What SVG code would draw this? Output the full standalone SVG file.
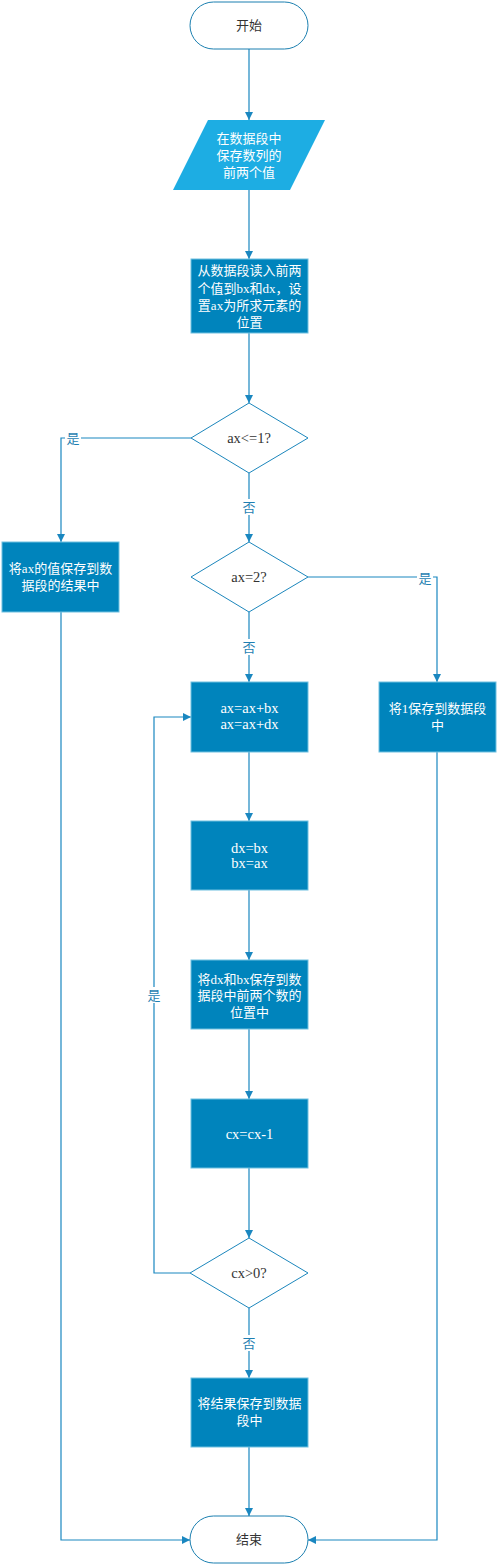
<svg xmlns="http://www.w3.org/2000/svg" width="498" height="1565" viewBox="0 0 498 1565">
<style>
.term{fill:#fff;stroke:#1B7FB0;stroke-width:1}
.para{fill:#1DADE3;stroke:none}
.proc{fill:#0084BC;stroke:#6FC0E0;stroke-width:1}
.dec{fill:#fff;stroke:#1B86BC;stroke-width:1}
.t{font-family:"Liberation Serif","Noto Sans CJK SC",serif;font-size:13px;text-anchor:middle;dominant-baseline:central}
.lat{font-size:14.5px}
.w{fill:#fff}
.d{fill:#333}
.lbl{font-family:"Liberation Serif","Noto Sans CJK SC",serif;font-size:13px;text-anchor:middle;dominant-baseline:central;fill:#1F7FB2}
.c{fill:none;stroke:#1A87C0;stroke-width:1.2}
.lb{fill:#fff}
</style>
<defs>
<marker id="arr" viewBox="0 0 10 10" refX="10" refY="5" markerWidth="8" markerHeight="8" markerUnits="userSpaceOnUse" orient="auto">
<path d="M0,0 L10,5 L0,10 z" fill="#1A87C0"/>
</marker>
</defs>
<rect width="498" height="1565" fill="#fff"/>
<g id="connectors">
<path class="c" d="M249,49 V120" marker-end="url(#arr)"/>
<path class="c" d="M249,190 V259" marker-end="url(#arr)"/>
<path class="c" d="M249,333 V403" marker-end="url(#arr)"/>
<path class="c" d="M191,438 H61 V542" marker-end="url(#arr)"/>
<path class="c" d="M249,473 V542" marker-end="url(#arr)"/>
<path class="c" d="M308,577 H437 V682" marker-end="url(#arr)"/>
<path class="c" d="M249,612 V682" marker-end="url(#arr)"/>
<path class="c" d="M249,752 V821" marker-end="url(#arr)"/>
<path class="c" d="M249,890 V960" marker-end="url(#arr)"/>
<path class="c" d="M249,1029 V1099" marker-end="url(#arr)"/>
<path class="c" d="M249,1168 V1238" marker-end="url(#arr)"/>
<path class="c" d="M190,1273 H154 V717 H191" marker-end="url(#arr)"/>
<path class="c" d="M249,1308 V1378" marker-end="url(#arr)"/>
<path class="c" d="M249,1447 V1516" marker-end="url(#arr)"/>
<path class="c" d="M61,612 V1540 H190" marker-end="url(#arr)"/>
<path class="c" d="M437,752 V1540 H308" marker-end="url(#arr)"/>
<rect class="lb" x="65" y="430" width="16" height="16"/>
<text class="lbl" x="73" y="438">是</text>
<rect class="lb" x="241" y="499" width="16" height="16"/>
<text class="lbl" x="249" y="507">否</text>
<rect class="lb" x="417" y="570" width="16" height="16"/>
<text class="lbl" x="425" y="578">是</text>
<rect class="lb" x="241" y="639" width="16" height="16"/>
<text class="lbl" x="249" y="647">否</text>
<rect class="lb" x="146" y="987" width="16" height="16"/>
<text class="lbl" x="154" y="995">是</text>
<rect class="lb" x="241" y="1335" width="16" height="16"/>
<text class="lbl" x="249" y="1343">否</text>
</g>
<g id="start">
<rect class="term" x="190" y="2" width="118" height="47" rx="23.5" ry="23.5"/>
<text class="t d" x="249" y="25.5">开始</text>
</g>
<g id="input">
<polygon class="para" points="208,120 325,120 290,190 173,190"/>
<text class="t w" x="249" y="138">在数据段中</text>
<text class="t w" x="249" y="155">保存数列的</text>
<text class="t w" x="249" y="172">前两个值</text>
</g>
<g id="read">
<rect class="proc" x="191" y="259" width="117" height="74"/>
<text class="t w" x="249.5" y="270">从数据段读入前两</text>
<text class="t w" x="249.5" y="288">个值到bx和dx，设</text>
<text class="t w" x="249.5" y="305">置ax为所求元素的</text>
<text class="t w" x="249.5" y="322">位置</text>
</g>
<g id="dec1">
<polygon class="dec" points="249,403 308,438 249,473 191,438"/>
<text class="t d lat" x="249" y="438">ax&lt;=1?</text>
</g>
<g id="saveax">
<rect class="proc" x="2" y="542" width="117" height="70"/>
<text class="t w" x="60.5" y="568">将ax的值保存到数</text>
<text class="t w" x="60.5" y="585">据段的结果中</text>
</g>
<g id="dec2">
<polygon class="dec" points="249,542 308,577 249,612 191,577"/>
<text class="t d lat" x="249" y="577">ax=2?</text>
</g>
<g id="save1">
<rect class="proc" x="379" y="682" width="117" height="70"/>
<text class="t w" x="437.5" y="708">将1保存到数据段</text>
<text class="t w" x="437.5" y="725">中</text>
</g>
<g id="add">
<rect class="proc" x="191" y="682" width="117" height="70"/>
<text class="t w lat" x="249.5" y="708">ax=ax+bx</text>
<text class="t w lat" x="249.5" y="724">ax=ax+dx</text>
</g>
<g id="swap">
<rect class="proc" x="191" y="821" width="117" height="69"/>
<text class="t w lat" x="249.5" y="848">dx=bx</text>
<text class="t w lat" x="249.5" y="863">bx=ax</text>
</g>
<g id="store">
<rect class="proc" x="191" y="960" width="117" height="69"/>
<text class="t w" x="249.5" y="979">将dx和bx保存到数</text>
<text class="t w" x="249.5" y="995">据段中前两个数的</text>
<text class="t w" x="249.5" y="1012">位置中</text>
</g>
<g id="dec-cx">
<rect class="proc" x="191" y="1099" width="117" height="69"/>
<text class="t w lat" x="249.5" y="1134">cx=cx-1</text>
</g>
<g id="dec3">
<polygon class="dec" points="249,1238 308,1273 249,1308 190,1273"/>
<text class="t d lat" x="249" y="1273">cx&gt;0?</text>
</g>
<g id="saveres">
<rect class="proc" x="191" y="1378" width="117" height="69"/>
<text class="t w" x="249.5" y="1403">将结果保存到数据</text>
<text class="t w" x="249.5" y="1420">段中</text>
</g>
<g id="end">
<rect class="term" x="190" y="1516" width="118" height="47" rx="23.5" ry="23.5"/>
<text class="t d" x="249" y="1539.5">结束</text>
</g>
</svg>
